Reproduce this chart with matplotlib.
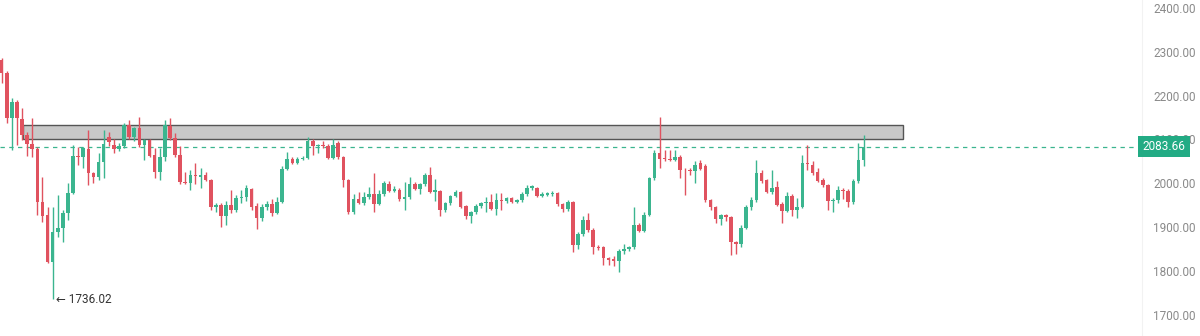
import matplotlib
matplotlib.use("Agg")
import matplotlib.pyplot as plt
from matplotlib.patches import Rectangle

plt.rcParams["font.family"] = ["Roboto", "DejaVu Sans"]

# OHLC values, one entry per candle
opens = [
    2281, 2252, 2149, 2186, 2147, 2110, 2090, 2079, 1958, 1928,
    1821, 1889, 1898, 1933, 1978, 2063, 2060, 2079, 2024, 2015,
    2049, 2106, 2088, 2078, 2085, 2133, 2106, 2126, 2088, 2099,
    2065, 2026, 2060, 2131, 2104, 2065, 2003, 2000, 2019, 2015,
    2019, 2008, 1946, 1951, 1926, 1951, 1940, 1967, 1970, 1987,
    1949, 1922, 1946, 1953, 1933, 1958, 2033, 2056, 2047, 2056,
    2058, 2097, 2085, 2088, 2085, 2058, 2092, 2060, 2008, 1935,
    1965, 1956, 1969, 1976, 1953, 1976, 1999, 1983, 1985, 1965,
    1969, 1999, 1987, 1999, 2019, 1981, 1983, 1940, 1955, 1971,
    1980, 1949, 1926, 1935, 1949, 1955, 1958, 1942, 1962, 1960,
    1967, 1958, 1962, 1976, 1990, 1990, 1971, 1974, 1976, 1978,
    1953, 1942, 1958, 1860, 1885, 1917, 1894, 1855, 1855, 1829,
    1828, 1824, 1846, 1851, 1854, 1905, 1892, 1928, 2012, 2069,
    2058, 2056, 2053, 2060, 2031, 2030, 2028, 2047, 2040, 1962,
    1946, 1919, 1928, 1924, 1866, 1862, 1898, 1946, 1962, 2024,
    2008, 1980, 1992, 1953, 1938, 1971, 1940, 1947, 2047, 2042,
    2026, 2008, 1996, 1960, 1963, 1985, 1983, 1958, 2005, 2053,
]
highs = [
    2285, 2255, 2195, 2190, 2172, 2118, 2149, 2082, 2015, 1946,
    1946, 1974, 1940, 2001, 2088, 2083, 2083, 2122, 2026, 2070,
    2122, 2117, 2101, 2092, 2138, 2144, 2128, 2151, 2101, 2101,
    2080, 2080, 2144, 2149, 2115, 2085, 2026, 2030, 2047, 2035,
    2026, 2010, 1956, 1956, 1960, 1985, 1974, 1985, 1996, 1990,
    1956, 1953, 1960, 1965, 1969, 2040, 2072, 2060, 2060, 2062,
    2106, 2101, 2090, 2097, 2090, 2101, 2097, 2062, 2010, 1975,
    1980, 1980, 1992, 2024, 1985, 2005, 2006, 1995, 1990, 2003,
    2015, 2003, 2001, 2024, 2037, 2010, 1985, 1958, 1973, 1985,
    1982, 1951, 1938, 1952, 1958, 1970, 1976, 1978, 1978, 1970,
    1970, 1964, 1980, 1996, 1996, 1992, 1980, 1980, 1982, 1980,
    1955, 1962, 1960, 1890, 1925, 1933, 1898, 1860, 1858, 1833,
    1835, 1850, 1862, 1858, 1946, 1910, 1935, 2015, 2076, 2151,
    2076, 2076, 2076, 2065, 2035, 2035, 2050, 2053, 2044, 1965,
    1948, 1930, 1930, 1926, 1868, 1905, 1950, 1970, 2053, 2030,
    2010, 2030, 2005, 1958, 1980, 1975, 1966, 2065, 2088, 2050,
    2035, 2013, 1998, 1967, 1995, 1990, 1987, 2010, 2092, 2110,
]
lows = [
    2229, 2138, 2076, 2088, 2099, 2063, 2060, 1928, 1912, 1819,
    1736.02, 1878, 1866, 1917, 1975, 2042, 2035, 1996, 2001, 2008,
    2012, 2085, 2070, 2074, 2080, 2100, 2096, 2082, 2054, 2060,
    2012, 2008, 2050, 2098, 2060, 1999, 1999, 1985, 1999, 1990,
    2005, 1940, 1935, 1901, 1905, 1932, 1935, 1955, 1960, 1940,
    1896, 1915, 1940, 1926, 1930, 1955, 2030, 2045, 2044, 2054,
    2055, 2065, 2070, 2080, 2055, 2055, 2055, 1992, 1930, 1930,
    1953, 1950, 1965, 1935, 1950, 1972, 1980, 1980, 1960, 1940,
    1965, 1985, 1975, 1995, 1978, 1960, 1925, 1935, 1950, 1968,
    1944, 1918, 1910, 1930, 1944, 1935, 1940, 1928, 1940, 1955,
    1955, 1955, 1958, 1972, 1985, 1968, 1968, 1972, 1972, 1948,
    1935, 1938, 1844, 1850, 1880, 1890, 1840, 1848, 1814, 1815,
    1812, 1798, 1840, 1846, 1850, 1888, 1888, 1925, 2008, 2035,
    2050, 2050, 2050, 2012, 1974, 2020, 2001, 2030, 1958, 1940,
    1910, 1905, 1915, 1837, 1840, 1855, 1895, 1940, 1958, 2000,
    1978, 1976, 1948, 1910, 1935, 1925, 1920, 1944, 2030, 2020,
    2003, 1992, 1940, 1935, 1955, 1965, 1946, 1953, 2000, 2040,
]
closes = [
    2252, 2149, 2186, 2149, 2110, 2090, 2079, 1958, 1926, 1821,
    1889, 1898, 1933, 1978, 2063, 2060, 2081, 2024, 2015, 2049,
    2090, 2094, 2078, 2085, 2133, 2106, 2126, 2088, 2099, 2063,
    2026, 2060, 2133, 2104, 2065, 2003, 2000, 2019, 2017, 2020,
    2008, 1946, 1951, 1926, 1951, 1940, 1967, 1970, 1990, 1946,
    1922, 1946, 1953, 1933, 1958, 2033, 2056, 2047, 2056, 2058,
    2097, 2085, 2088, 2085, 2058, 2088, 2060, 2008, 1935, 1965,
    1956, 1969, 1976, 1953, 1976, 2001, 1983, 1987, 1965, 1969,
    1999, 1987, 1999, 2019, 1981, 1985, 1940, 1955, 1971, 1980,
    1946, 1926, 1935, 1949, 1955, 1958, 1942, 1962, 1960, 1967,
    1958, 1962, 1976, 1990, 1994, 1971, 1976, 1977, 1978, 1953,
    1942, 1958, 1860, 1885, 1917, 1894, 1855, 1853, 1829, 1826,
    1824, 1846, 1851, 1854, 1905, 1892, 1928, 2012, 2069, 2056,
    2056, 2053, 2060, 2031, 2030, 2028, 2042, 2033, 1962, 1946,
    1919, 1928, 1924, 1866, 1862, 1898, 1946, 1962, 2024, 2005,
    1980, 1990, 1951, 1938, 1971, 1940, 1947, 2047, 2044, 2024,
    2005, 1996, 1960, 1963, 1985, 1983, 1958, 2005, 2053, 2083.66,
]

zone_low, zone_high = 2101, 2133
last_price = 2083.66
low_price = 1736.02
price_ticks = [1700, 1800, 1900, 2000, 2100, 2200, 2300, 2400]

up_color = "#3bb58f"
down_color = "#e0525f"

fig = plt.figure(figsize=(12, 3.36), dpi=100)
ax = fig.add_axes([0, 0, 1142 / 1200, 1])

# resistance zone sits behind the candles
ax.add_patch(Rectangle((4.2, zone_low), 172.5, zone_high - zone_low,
                       facecolor="#c8c8c8", edgecolor="#555555", linewidth=1, zorder=1))

for i, (o, h, l, c) in enumerate(zip(opens, highs, lows, closes)):
    col = up_color if c >= o else down_color
    ax.vlines(i, l, h, color=col, linewidth=1, zorder=2)
    ax.bar(i, abs(c - o) or 0.8, bottom=min(o, c), width=0.7, color=col,
           linewidth=0, zorder=2)

ax.axhline(last_price, color=up_color, linestyle=(0, (3.5, 3.5)), linewidth=0.9, zorder=1.5)

ax.annotate("\u2190 1736.02", xy=(10.6, low_price), xytext=(10.6, low_price),
            fontsize=8.5, color="#333333", ha="left", va="center")

ax.set_xlim(-0.33, 223.6)
ax.set_ylim(1652, 2418)
ax.set_xticks([])
ax.yaxis.tick_right()
ax.set_yticks(price_ticks)
ax.set_yticklabels([f"{p:.2f}" for p in price_ticks])
ax.tick_params(axis="y", length=0, pad=8, labelsize=8.5, labelcolor="#8a8a8a")
for s in ["top", "bottom", "left"]:
    ax.spines[s].set_visible(False)
ax.spines["right"].set_color("#f2f2f2")

# last-price tag drawn over the 2100 label, as in the original
ax.text(1.0005, last_price, f"{last_price:.2f}", transform=ax.get_yaxis_transform(),
        ha="left", va="center", fontsize=8.5, color="white", zorder=5,
        bbox=dict(boxstyle="square,pad=0.35", facecolor="#22ab84", edgecolor="none"))

plt.savefig("out.png", dpi=100)
